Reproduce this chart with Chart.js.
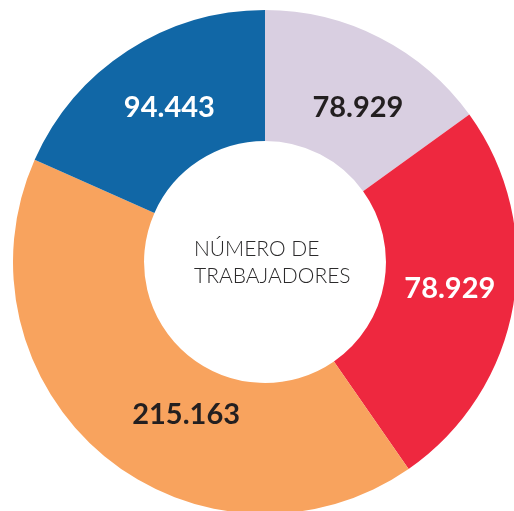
<!DOCTYPE html>
<html>
<head>
<meta charset="utf-8">
<script src="https://cdn.jsdelivr.net/npm/chart.js@4"></script>
<style>
  html, body { margin: 0; padding: 0; background: #fff; overflow: hidden; width: 514px; height: 511px; }
  #wrap { position: absolute; left: 13px; top: 10px; width: 504px; height: 504px; }
</style>
</head>
<body>
<div id="wrap"><canvas id="myChart"></canvas></div>
<script>
  // slice shares as drawn in the picture (percent of the ring)
  var categories = ["A", "B", "C", "D"];
  var sliceShares = [15.05, 25.3, 41.3, 18.35];
  // printed values on each slice
  var valueLabels = ["78.929", "78.929", "215.163", "94.443"];
  var centerLines = ["NÚMERO DE", "TRABAJADORES"];

  var sliceColors = ["#D9CFE1", "#EE283F", "#F8A35E", "#1167A6"];
  var labelColors = ["#231F20", "#FFFFFF", "#231F20", "#FFFFFF"];
  // small nudges so labels sit where the original has them
  var labelNudge = [[8, 12], [1, -5], [40, 9], [6, 2]];

  var sliceLabels = {
    id: 'sliceLabels',
    afterDatasetsDraw: function (chart) {
      var ctx = chart.ctx;
      var meta = chart.getDatasetMeta(0);
      ctx.save();
      ctx.font = 'bold 29px Lato, "Noto Sans", sans-serif';
      ctx.textAlign = 'center';
      ctx.textBaseline = 'middle';
      meta.data.forEach(function (arc, i) {
        var p = arc.tooltipPosition();
        ctx.fillStyle = labelColors[i];
        ctx.fillText(valueLabels[i], p.x + labelNudge[i][0], p.y + labelNudge[i][1]);
      });

      // centre caption
      var cx = meta.data[0].x, cy = meta.data[0].y;
      ctx.font = '300 21px Lato, "Noto Sans", sans-serif';
      ctx.fillStyle = '#2B2A2B';
      ctx.textAlign = 'left';
      ctx.fillText(centerLines[0], cx - 71, cy - 13);
      ctx.fillText(centerLines[1], cx - 71, cy + 14);
      ctx.restore();
    }
  };

  new Chart("myChart", {
    type: "doughnut",
    data: {
      labels: categories,
      datasets: [{
        data: sliceShares,
        backgroundColor: sliceColors,
        borderWidth: 0
      }]
    },
    options: {
      responsive: true,
      maintainAspectRatio: false,
      animation: false,
      cutout: '48%',
      layout: { padding: 0 },
      plugins: {
        legend: { display: false },
        tooltip: { enabled: false }
      }
    },
    plugins: [sliceLabels]
  });
</script>
</body>
</html>
